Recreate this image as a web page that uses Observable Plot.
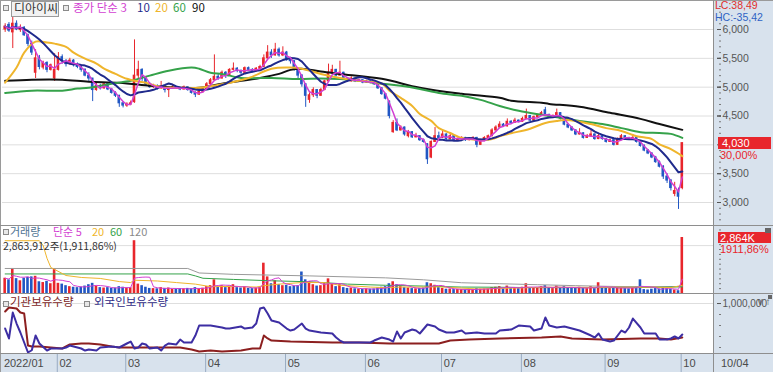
<!DOCTYPE html>
<html><head><meta charset="utf-8">
<script src="https://cdn.jsdelivr.net/npm/d3@7"></script>
<script src="https://cdn.jsdelivr.net/npm/@observablehq/plot@0.6"></script>
<style>
body{margin:0;background:#fff;}
#chart{position:relative;width:773px;height:372px;overflow:hidden;background:#fff;font-family:"Liberation Sans",Arial,sans-serif;}
.a{position:absolute;white-space:nowrap;line-height:1;}
.kr{font-family:"Noto Sans CJK KR",sans-serif;font-size:11.5px;}
.ic{position:absolute;width:4px;height:4px;border:1px solid #8a8a8a;background:#e8e8e8;}
svg{position:absolute;}
</style></head><body><div id="chart"></div>
<script>
// ---------- DATA ----------
const opens=[6000,6080,5950,6100,5990,6030,5900,5750,5250,5500,
5340,5420,5300,5150,5300,5520,5450,5400,5460,5380,
5350,5300,5200,5150,4950,5020,4980,5050,4960,4900,
4850,4720,4680,4700,4740,5200,5300,5150,5050,5000,
5020,4980,5010,4950,4990,5000,4980,4960,5000,4950,
4900,4870,4920,4960,5050,5120,5180,5150,5250,5200,
5300,5320,5280,5250,5330,5300,5280,5320,5350,5500,
5600,5550,5650,5550,5600,5480,5450,5300,5200,5050,
4780,4860,4950,4850,4950,5100,5250,5300,5200,5250,
5150,5100,5150,5100,5120,5080,5100,5080,5050,4980,
4880,4750,4220,4380,4250,4300,4150,4220,4130,4150,
4080,4010,3780,4050,4150,4120,4180,4100,4150,4080,
4100,4120,4080,4100,4120,4000,4080,4120,4150,4250,
4300,4350,4320,4400,4380,4420,4400,4450,4500,4420,
4480,4500,4600,4520,4480,4480,4550,4450,4350,4300,
4250,4180,4200,4120,4150,4180,4100,4150,4100,4050,
4080,4000,4100,4150,4120,4100,4120,4050,3980,3900,
3850,3780,3700,3620,3450,3380,3150,3200,3250];
const highs=[6100,6120,6250,6150,6080,6050,5920,5800,5650,5550,
5450,5440,5400,5580,5600,5560,5480,5500,5480,5420,
5380,5320,5250,5150,5080,5050,5080,5060,4980,4920,
4860,4750,4730,4760,5820,5450,5320,5180,5080,5050,
5040,5100,5020,5000,5030,5010,5000,5020,5010,4960,
4920,4940,4980,5080,5150,5560,5220,5280,5270,5320,
5420,5340,5300,5350,5350,5320,5340,5380,5560,5720,
5650,5760,5680,5700,5620,5520,5460,5320,5220,5060,
4900,4990,4960,4980,5120,5400,5380,5310,5450,5260,
5160,5180,5160,5140,5130,5120,5110,5090,5060,4990,
4890,4760,4420,4450,4330,4310,4250,4230,4200,4160,
4100,4020,4070,4300,4220,4250,4190,4200,4160,4120,
4140,4130,4120,4140,4130,4100,4140,4170,4280,4330,
4400,4370,4450,4420,4460,4430,4480,4620,4510,4500,
4530,4580,4650,4530,4520,4620,4560,4460,4360,4310,
4260,4280,4210,4180,4250,4190,4200,4160,4110,4100,
4090,4120,4180,4160,4130,4180,4130,4060,4000,3920,
3860,3800,3720,3640,3500,3400,3350,3250,4030];
const lows=[5950,5950,5670,5980,5950,5880,5700,5550,5150,5300,
5300,5250,5280,5100,5280,5400,5350,5380,5350,5320,
5260,5180,5100,4750,4930,4950,4960,4940,4880,4820,
4650,4640,4650,4680,4720,5150,5100,5020,4980,4980,
4950,4960,4900,4820,4970,4960,4940,4950,4930,4880,
4820,4860,4900,4950,5030,5100,5120,5140,5150,5190,
5280,5250,5220,5240,5280,5250,5260,5300,5340,5480,
5500,5540,5520,5530,5450,5400,5280,5150,5000,4650,
4720,4820,4800,4840,4940,5080,5230,5180,5190,5130,
5080,5090,5080,5090,5060,5070,5060,5030,4960,4860,
4780,4450,4200,4230,4240,4150,4120,4110,4120,4060,
4030,3660,3760,4040,4100,4110,4080,4090,4060,4060,
4090,4060,4070,4090,3950,3990,4070,4100,4140,4240,
4280,4300,4310,4350,4370,4380,4390,4440,4400,4410,
4470,4490,4500,4460,4470,4470,4430,4330,4280,4230,
4160,4170,4100,4110,4140,4080,4090,4080,4030,4040,
3980,3990,4090,4100,4080,4090,4030,3960,3880,3830,
3760,3680,3600,3400,3330,3200,3100,2880,3220];
const closes=[6050,5980,6100,6000,6030,5900,5750,5600,5500,5350,
5420,5300,5380,5300,5520,5450,5400,5460,5380,5350,
5300,5200,5150,4950,5020,4980,5050,4960,4900,4850,
4720,4680,4700,4720,5200,5300,5150,5050,5000,5020,
4980,5010,4950,4990,5000,4980,4960,5000,4950,4900,
4870,4920,4960,5050,5120,5180,5150,5250,5200,5300,
5320,5280,5250,5330,5300,5280,5320,5350,5500,5600,
5550,5650,5550,5600,5480,5450,5300,5200,5050,4850,
4860,4950,4850,4950,5100,5250,5300,5200,5250,5150,
5100,5150,5100,5120,5080,5100,5080,5050,4980,4880,
4800,4500,4380,4250,4300,4180,4220,4130,4150,4080,
4050,3750,4050,4150,4120,4180,4100,4150,4080,4100,
4120,4080,4100,4120,4000,4080,4120,4150,4250,4300,
4350,4320,4400,4380,4420,4400,4450,4500,4420,4480,
4500,4550,4520,4480,4500,4550,4450,4350,4300,4250,
4180,4200,4120,4150,4180,4100,4150,4100,4050,4080,
4000,4100,4150,4120,4100,4120,4050,3980,3900,3850,
3780,3700,3620,3450,3380,3250,3200,3100,4030];
// volume, thousand shares
const volumes=[780,700,1280,760,650,780,820,850,880,600,
560,620,500,1250,520,480,400,350,320,300,
330,380,450,520,380,300,280,300,260,280,
350,320,280,300,2700,480,400,320,260,250,
240,300,260,280,220,230,250,240,260,240,
300,250,270,350,400,700,320,400,300,380,
450,300,280,350,260,250,280,300,1550,850,
500,650,450,400,420,350,380,400,1100,700,
600,450,380,400,500,750,500,350,450,300,
260,280,240,230,220,240,220,230,280,320,
350,500,600,450,350,300,280,250,240,260,
280,550,500,420,300,260,220,230,200,210,
200,190,200,210,250,220,230,240,300,320,
350,250,380,260,300,250,320,500,280,300,
270,350,400,280,250,380,300,350,280,260,
300,320,260,250,350,250,550,300,260,250,
280,320,300,250,240,300,350,700,200,180,
220,250,230,280,250,220,180,142,2863.912];
// moving averages: [day index, price]
const ma20Pts=[[0,5077],[3,5340],[5,5600],[8,5790],[11,5775],[13,5755],[16,5700],[18,5600],[21,5495],[24,5410],[26,5320],[29,5230],[32,5145],[34,5110],[37,5077],[41,5000],[46,4990],[51,4990],[57,5050],[64,5160],[70,5320],[75,5340],[78,5320],[83,5230],[88,5160],[93,5110],[99,5060],[101,4940],[104,4815],[107,4675],[109,4535],[112,4415],[114,4290],[117,4205],[120,4120],[122,4100],[125,4085],[128,4100],[130,4150],[133,4200],[138,4280],[142,4380],[145,4415],[147,4430],[150,4415],[154,4360],[158,4290],[162,4240],[166,4150],[170,4100],[172,4010],[175,3925],[178,3805]];
const ma60Pts=[[0,4900],[7,4940],[15,4940],[19,4975],[22,4990],[28,5060],[33,5110],[38,5200],[43,5285],[49,5340],[51,5320],[54,5250],[57,5230],[59,5200],[62,5160],[70,5160],[77,5140],[83,5150],[88,5140],[93,5110],[99,5060],[104,5025],[109,4970],[114,4900],[120,4850],[125,4780],[130,4675],[135,4590],[141,4520],[146,4470],[151,4415],[157,4360],[162,4290],[167,4220],[172,4205],[175,4190],[178,4120]];
const ma90Pts=[[0,5110],[7,5130],[15,5130],[22,5095],[30,5077],[38,5025],[43,5000],[51,4990],[57,5060],[62,5110],[67,5160],[72,5230],[75,5300],[78,5320],[83,5270],[88,5230],[99,5145],[109,4990],[120,4885],[130,4815],[133,4765],[141,4730],[143,4710],[151,4660],[159,4555],[167,4450],[172,4360],[178,4260]];
// volume moving averages [day index, thousand shares]
const vma20Pts=[[0,2700],[9,2700],[10,2450],[11,1800],[12,1330],[13,1230],[16,920],[20,820],[25,770],[30,610],[33,560],[34,680],[40,640],[45,560],[50,480],[54,350],[60,360],[66,330],[68,400],[72,480],[78,560],[84,560],[88,420],[92,380],[96,330],[100,300],[104,330],[110,330],[114,340],[118,300],[124,230],[130,260],[136,290],[142,320],[148,320],[154,310],[160,320],[166,320],[170,330],[175,300],[178,420]];
const vma60Pts=[[0,1000],[48,1000],[50,900],[52,780],[60,720],[70,650],[80,600],[90,480],[100,420],[110,380],[120,330],[130,320],[140,300],[150,300],[160,300],[170,310],[178,340]];
const vma120Pts=[[0,1280],[48,1280],[51,1050],[60,980],[80,900],[100,800],[110,700],[120,550],[130,500],[140,450],[150,400],[160,360],[170,350],[178,360]];
// holdings [day index, thousand shares]
const instPts=[[0,855],[1,927],[3,909],[4,836],[5,818],[6,236],[7,218],[9,218],[12,200],[15,182],[17,255],[20,273],[22,273],[25,255],[28,218],[30,200],[36,200],[46,200],[49,164],[51,127],[54,145],[57,127],[62,145],[65,182],[67,182],[68,418],[69,364],[70,327],[75,309],[86,291],[93,291],[101,273],[109,273],[114,273],[117,327],[122,345],[130,364],[141,382],[146,400],[149,364],[157,345],[167,364],[172,364],[175,345],[178,382]];
const forPts=[[0,545],[1,364],[2,836],[3,636],[4,473],[6,109],[7,150],[8,418],[9,273],[11,145],[12,182],[13,182],[15,182],[16,200],[17,236],[19,200],[20,182],[21,145],[22,164],[24,145],[25,200],[28,218],[30,200],[32,273],[33,309],[34,182],[35,200],[36,273],[37,255],[38,182],[40,200],[41,145],[42,236],[43,273],[45,255],[46,345],[47,291],[49,291],[50,418],[51,600],[54,600],[57,564],[58,545],[59,545],[62,582],[63,545],[65,564],[66,636],[67,909],[68,927],[69,818],[70,691],[72,655],[74,545],[75,509],[76,527],[78,636],[79,545],[80,509],[83,473],[86,455],[87,382],[88,327],[89,291],[93,291],[96,291],[97,327],[99,382],[100,364],[101,345],[102,309],[103,491],[104,364],[105,473],[107,527],[108,509],[109,455],[111,618],[112,600],[113,582],[114,527],[116,473],[118,473],[120,509],[121,455],[124,473],[126,455],[129,455],[130,509],[133,527],[135,600],[138,582],[139,509],[141,545],[142,745],[143,600],[145,564],[147,582],[149,545],[151,509],[154,418],[155,382],[156,455],[157,345],[159,309],[160,327],[162,509],[163,473],[164,564],[165,727],[167,564],[168,455],[171,455],[172,345],[174,345],[175,364],[176,400],[177,364],[178,436]];
const priceTicks=[3000,3500,4000,4500,5000,5500,6000];
const priceLabelTicks=[3000,3500,4500,5000,5500,6000]; // 4,000 is hidden under the last-price box
const volGrid=[2450];
const holdTicks=[1000000];
const monthStart=[-0.6,14,32,53,74,95,115,136,158,178];
const monthLabels=["2022/01","02","03","04","05","06","07","08","09","10"];
const lastDateLabel="10/04";

// ---------- STYLE ----------
const RED="#e8262c", BLUE="#2157c4";
const C3="#d23fd2", C10="#1f2a8c", C20="#efb52c", C60="#35a24a", C90="#111111", C120="#9a9a9a";
const PANEL="#d8e2ed";
const W=773;
const root=document.getElementById("chart");

const sma=(vals,n)=>vals.map((_,i)=>d3.mean(vals.slice(Math.max(0,i-n+1),i+1)));
const ma3=sma(closes,3), ma10=sma(closes,10), vma5=sma(volumes,5);
const candles=closes.map((c,i)=>({i,o:opens[i],h:highs[i],l:lows[i],c,v:volumes[i],
  col:c>=opens[i]?RED:BLUE, ma3:ma3[i], ma10:ma10[i], vma5:vma5[i]}));

function div(css,text,cls){const d=document.createElement("div");d.className=cls||"a";d.style.cssText=css;if(text!=null)d.textContent=text;root.appendChild(d);return d;}

// backgrounds
div(`left:714px;top:0;width:59px;height:372px;background:${PANEL};`);
div(`left:0;top:353px;width:714px;height:19px;background:${PANEL};`);

const common={width:W,marginLeft:2,marginRight:60,x:{domain:[-0.7,186.2],axis:null},
  color:{type:"identity"},
  style:{background:"transparent",overflow:"visible",fontFamily:"Liberation Sans, Arial, sans-serif",fontSize:"10.5px"}};
const pt=(arr,k)=>arr.map(([i,v])=>({i,v:v*(k||1)}));
const bx1=d=>d.i-0.34, bx2=d=>d.i+0.34;
const minorAxis=(vals)=>Plot.axisY(vals,{anchor:"right",tickSize:2,dx:5,stroke:"#777",fill:"none"});

// price panel
const price=Plot.plot({...common,height:226,marginTop:0,marginBottom:0,
  y:{domain:[2584,6503]},
  marks:[
    Plot.ruleY(priceTicks,{stroke:"#dedede"}),
    Plot.ruleX(candles,{x:"i",y1:"l",y2:"h",stroke:"col",strokeWidth:1}),
    Plot.rect(candles,{x1:bx1,x2:bx2,y1:d=>Math.min(d.o,d.c),y2:d=>Math.max(d.o,d.c),fill:"col",insetTop:-0.5,insetBottom:-0.5}),
    Plot.line(pt(ma90Pts),{x:"i",y:"v",stroke:C90,strokeWidth:2,curve:"catmull-rom"}),
    Plot.line(pt(ma60Pts),{x:"i",y:"v",stroke:C60,strokeWidth:2,curve:"catmull-rom"}),
    Plot.line(pt(ma20Pts),{x:"i",y:"v",stroke:C20,strokeWidth:2,curve:"catmull-rom"}),
    Plot.line(candles,{x:"i",y:"ma10",stroke:C10,strokeWidth:2}),
    Plot.line(candles,{x:"i",y:"ma3",stroke:C3,strokeWidth:1.5}),
    minorAxis(d3.range(2700,6500,100)),
    Plot.axisY(priceTicks,{anchor:"right",tickSize:4,dx:3,stroke:"#555",fill:"none"}),
    Plot.axisY(priceLabelTicks,{anchor:"right",tickFormat:d3.format(","),tickSize:4,tickPadding:2,dx:3,color:"#555"})
  ]});
price.style.left="0px";price.style.top="0px";root.appendChild(price);

// volume panel
const vol=Plot.plot({...common,height:68,marginTop:0,marginBottom:1,
  y:{domain:[0,3427]},
  marks:[
    Plot.ruleY(volGrid,{stroke:"#dedede"}),
    Plot.rect(candles,{x1:bx1,x2:bx2,y1:0,y2:"v",fill:"col"}),
    Plot.line(pt(vma120Pts),{x:"i",y:"v",stroke:C120,strokeWidth:1}),
    Plot.line(pt(vma60Pts),{x:"i",y:"v",stroke:C60,strokeWidth:1}),
    Plot.line(pt(vma20Pts),{x:"i",y:"v",stroke:C20,strokeWidth:1}),
    Plot.line(candles,{x:"i",y:"vma5",stroke:C3,strokeWidth:1}),
    minorAxis(d3.range(250,3400,250))
  ]});
vol.style.left="0px";vol.style.top="226px";root.appendChild(vol);

// holdings panel
const hold=Plot.plot({...common,height:59,marginTop:0,marginBottom:0,
  y:{domain:[91000,1164000]},
  marks:[
    Plot.ruleY(holdTicks,{stroke:"#dedede"}),
    Plot.line(pt(instPts,1000),{x:"i",y:"v",stroke:"#8c1f1f",strokeWidth:2}),
    Plot.line(pt(forPts,1000),{x:"i",y:"v",stroke:"#3d2ea3",strokeWidth:2}),
    minorAxis([200000,400000,600000,800000]),
    Plot.axisY(holdTicks,{anchor:"right",tickFormat:d3.format(","),tickSize:4,tickPadding:2,dx:3,color:"#555",fontSize:10})
  ]});
hold.style.left="0px";hold.style.top="294px";root.appendChild(hold);

// date band
const band=Plot.plot({...common,height:19,marginTop:0,marginBottom:0,
  y:{domain:[0,1],axis:null},
  marks:[
    Plot.ruleX(monthStart.slice(1),{x:d=>d-0.3,stroke:"#98abc2"}),
    Plot.text(monthStart,{x:d=>d,y:0.45,text:(d,i)=>monthLabels[i],textAnchor:"start",dx:1,fill:"#4a4a4a",fontSize:11})
  ]});
band.style.left="0px";band.style.top="353px";root.appendChild(band);

// borders
div(`left:0;top:0;width:773px;height:1px;background:#9a9a9a;`);
div(`left:0;top:0;width:1px;height:372px;background:#9a9a9a;`);
div(`left:713px;top:0;width:1px;height:372px;background:#8e8e8e;`);
[225,293,353].forEach(y=>div(`left:0;top:${y}px;width:773px;height:1px;background:#8e8e8e;`));

// price legend
div(`left:3px;top:5px;`,null,"ic");
div(`left:11px;top:1px;width:46px;height:14px;border:1px solid #9a9a9a;background:#f2f2f2;`);
div(`left:14px;top:2px;color:#333;font-size:12px;`,"디아이씨","a kr");
div(`left:63px;top:5px;`,null,"ic");
div(`left:73px;top:2px;color:${C3};`,"종가 단순 3","a kr");
div(`left:137px;top:2px;color:${C10};`,"10","a kr");
div(`left:155px;top:2px;color:${C20};`,"20","a kr");
div(`left:173px;top:2px;color:${C60};`,"60","a kr");
div(`left:192px;top:2px;color:${C90};`,"90","a kr");
// right labels
div(`left:715px;top:0px;color:#e0302c;font-size:10.5px;`,"LC:38,49");
div(`left:715px;top:12px;color:#2f62c4;font-size:10.5px;`,"HC:-35,42");
const yLast=price.scale("y").apply(closes[closes.length-1]);
div(`left:718px;top:${yLast-6}px;width:53px;height:12px;background:#e8262c;`);
div(`left:722px;top:${yLast-5}px;color:#fff;font-size:11px;`,"4,030");
div(`left:720px;top:${yLast+7}px;color:#e8262c;font-size:11px;`,"30,00%");

// volume legend
div(`left:3px;top:229px;`,null,"ic");
div(`left:10px;top:226px;color:#4f7392;font-size:11px;`,"거래량","a kr");
div(`left:53px;top:226px;color:${C3};font-size:11px;`,"단순 5","a kr");
div(`left:92px;top:226px;color:${C20};font-size:11px;`,"20","a kr");
div(`left:110px;top:226px;color:${C60};font-size:11px;`,"60","a kr");
div(`left:129px;top:226px;color:#8a8a8a;font-size:11px;`,"120","a kr");
div(`left:3px;top:241px;color:#333;font-size:10.5px;`,"2,863,912주(1,911,86%)","a kr");
const yV=226+vol.scale("y").apply(volumes[volumes.length-1]);
div(`left:718px;top:${yV-5}px;width:53px;height:11px;background:#e8262c;`);
div(`left:720px;top:${yV-4}px;color:#fff;font-size:11px;`,"2,864K");
div(`left:720px;top:${yV+7}px;color:#e8262c;font-size:11px;`,"1911,86%");
div(`left:765px;top:228px;width:6px;height:5px;background:#666;`);

// holdings legend
div(`left:3px;top:301px;`,null,"ic");
div(`left:10px;top:296px;color:#7d2424;`,"기관보유수량","a kr");
div(`left:84px;top:301px;`,null,"ic");
div(`left:94px;top:296px;color:#2e2a86;`,"외국인보유수량","a kr");
div(`left:768px;top:295px;width:4px;height:4px;background:#666;`);

// last date
div(`left:721px;top:358px;color:#4a4a4a;font-size:11px;`,lastDateLabel);
</script></body></html>
